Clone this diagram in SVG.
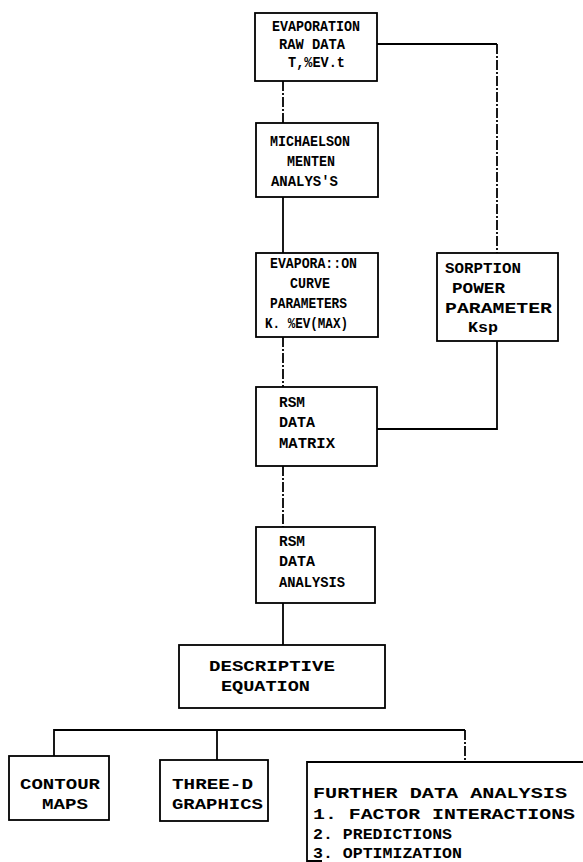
<svg xmlns="http://www.w3.org/2000/svg" width="583" height="862" viewBox="0 0 583 862">
<style>
.box{fill:none;stroke:#000;stroke-width:1.8}
.ln{fill:none;stroke:#000;stroke-width:1.8}
.dash{stroke-dasharray:10 2 2 2}
text{font-family:"Liberation Mono","DejaVu Sans Mono",monospace;font-size:14px;font-weight:bold;fill:#000}
.w{font-size:15px}
</style>
<rect width="583" height="862" fill="#fff"/>
<g id="connectors">
<path class="ln dash" d="M283 81 V123"/>
<path class="ln" d="M283 197 V253"/>
<path class="ln dash" d="M283 337 V387"/>
<path class="ln dash" d="M283 466 V527"/>
<path class="ln" d="M283 603 V645"/>
<path class="ln" d="M377 44 H497"/>
<path class="ln dash" d="M497 44 V253"/>
<path class="ln" d="M497 341 V429 H377"/>
<path class="ln" d="M54 756 V730 H465"/>
<path class="ln" d="M217 730 V760"/>
<path class="ln dash" d="M465 730 V762"/>
</g>
<g id="n1"><rect class="box" x="255" y="13" width="122" height="68"/>
<text x="272" y="31" textLength="88" lengthAdjust="spacingAndGlyphs">EVAPORATION</text><text x="279" y="49" textLength="66" lengthAdjust="spacingAndGlyphs">RAW DATA</text><text x="288" y="67" textLength="57" lengthAdjust="spacingAndGlyphs">T,%EV.t</text></g>
<g id="n2"><rect class="box" x="256" y="123" width="122" height="74"/>
<text x="270" y="146" textLength="80" lengthAdjust="spacingAndGlyphs">MICHAELSON</text><text x="287" y="166" textLength="48" lengthAdjust="spacingAndGlyphs">MENTEN</text><text x="271" y="186" textLength="67" lengthAdjust="spacingAndGlyphs">ANALYS'S</text></g>
<g id="n3"><rect class="box" x="256" y="253" width="122" height="84"/>
<text x="270" y="268" textLength="87" lengthAdjust="spacingAndGlyphs">EVAPORA::ON</text><text x="290" y="288" textLength="40" lengthAdjust="spacingAndGlyphs">CURVE</text><text x="270" y="308" textLength="77" lengthAdjust="spacingAndGlyphs">PARAMETERS</text><text x="265" y="328" textLength="83" lengthAdjust="spacingAndGlyphs">K. %EV(MAX)</text></g>
<g id="n4"><rect class="box" x="437" y="253" width="121" height="88"/>
<text class="w" x="445" y="273" textLength="76" lengthAdjust="spacingAndGlyphs">SORPTION</text><text class="w" x="452" y="293" textLength="53" lengthAdjust="spacingAndGlyphs">POWER</text><text class="w" x="445" y="313" textLength="107" lengthAdjust="spacingAndGlyphs">PARAMETER</text><text class="w" x="468" y="332" textLength="30" lengthAdjust="spacingAndGlyphs">Ksp</text></g>
<g id="n5"><rect class="box" x="256" y="387" width="121" height="79"/>
<text x="279" y="407" textLength="26" lengthAdjust="spacingAndGlyphs">RSM</text><text x="279" y="427" textLength="36" lengthAdjust="spacingAndGlyphs">DATA</text><text x="279" y="448" textLength="56" lengthAdjust="spacingAndGlyphs">MATRIX</text></g>
<g id="n6"><rect class="box" x="256" y="527" width="119" height="76"/>
<text x="279" y="546" textLength="26" lengthAdjust="spacingAndGlyphs">RSM</text><text x="279" y="566" textLength="36" lengthAdjust="spacingAndGlyphs">DATA</text><text x="279" y="587" textLength="66" lengthAdjust="spacingAndGlyphs">ANALYSIS</text></g>
<g id="n7"><rect class="box" x="179" y="645" width="206" height="63"/>
<text class="w" x="209" y="671" textLength="126" lengthAdjust="spacingAndGlyphs">DESCRIPTIVE</text><text class="w" x="221" y="691" textLength="89" lengthAdjust="spacingAndGlyphs">EQUATION</text></g>
<g id="n8"><rect class="box" x="9" y="756" width="100" height="64"/>
<text class="w" x="20" y="789" textLength="80" lengthAdjust="spacingAndGlyphs">CONTOUR</text><text class="w" x="42" y="809" textLength="46" lengthAdjust="spacingAndGlyphs">MAPS</text></g>
<g id="n9"><rect class="box" x="160" y="760" width="108" height="61"/>
<text class="w" x="172" y="789" textLength="81" lengthAdjust="spacingAndGlyphs">THREE-D</text><text class="w" x="172" y="809" textLength="91" lengthAdjust="spacingAndGlyphs">GRAPHICS</text></g>
<g id="n10"><path class="ln" d="M583 762 H307 V861 H322"/>
<text class="w" x="313" y="798" textLength="254" lengthAdjust="spacingAndGlyphs">FURTHER DATA ANALYSIS</text><text class="w" x="313" y="819" textLength="262" lengthAdjust="spacingAndGlyphs">1. FACTOR INTERACTIONS</text><text class="w" x="313" y="839" textLength="139" lengthAdjust="spacingAndGlyphs">2. PREDICTIONS</text><text class="w" x="313" y="858" textLength="149" lengthAdjust="spacingAndGlyphs">3. OPTIMIZATION</text></g>
</svg>
